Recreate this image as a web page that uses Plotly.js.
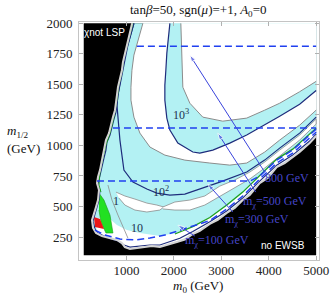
<!DOCTYPE html>
<html><head><meta charset="utf-8">
<script src="https://cdn.plot.ly/plotly-3.0.1.min.js"></script>
<style>html,body{margin:0;padding:0;background:#fff}</style>
</head><body><div id="chart" style="width:334px;height:295px"></div>
<script>
// ---- axes ----
const xTicks = [1000, 2000, 3000, 4000, 5000];
const yTicks = [250, 500, 750, 1000, 1250, 1500, 1750, 2000];

// ---- scanned parameter region (m0, m1/2) ----
const regionM0  = [100, 5000, 5000, 100];
const regionM12 = [100, 100, 2000, 2000];
const cornerM0  = [5000];
const cornerM12 = [2000];

// edge of the allowed region (chi not LSP on the left, no EWSB on the right)
const edgeM0  = [1120,1074,1031,968,926,905,863,821,800,779,758,716,674,632,568,547,505,442,400,379,421,400,358,316,274,295,358,484,653,800,905,968,1074,1221,1389,1537,1705,1873,2063,2231,2400,2547,2758,2926,3115,3284,3452,3600,3810,3980,4168,4336,4505,4652,4863,5000];
const edgeM12 = [2000,1919,1845,1756,1682,1616,1551,1477,1412,1346,1289,1232,1166,1101,1044,1003,905,798,741,692,635,553,496,447,389,324,283,258,242,226,201,168,152,160,168,177,168,185,210,230,275,300,357,390,447,488,553,594,692,733,823,856,905,946,1019,1077];

// contour 10^3 (dark) and its companion (gray)
const c1000M0  = [1916,1873,1852,1831,1810,1810,1852,1916,2084,2400,2547,2821,3179,3536,3915,4231,4652,5000];
const c1000M12 = [2000,1862,1756,1616,1494,1371,1224,1126,1019,946,937,962,1019,1085,1166,1240,1338,1450];
const g3000M0  = [2147,2168,2189,2337,2610,3031,3536,3915,4231,4652,5000];
const g3000M12 = [2000,1698,1477,1346,1232,1199,1224,1289,1346,1440,1525];
// contour 10^2 (dark) and its companion (gray)
const c100M0  = [1158,1095,1031,989,947,905,863,821,800,821,863,905,947,1137,1431,1642,1916,2231,2547,2968,3536,3915,4231,4652,5000];
const c100M12 = [2000,1919,1821,1740,1657,1559,1477,1412,1330,1207,1044,921,798,700,643,610,594,602,643,700,782,880,978,1101,1232];
const g300M0  = [1347,1284,1221,1158,1116,1095,1095,1158,1284,1495,1810,2231,2758,3179,3536,3915,4231,4652,5000];
const g300M12 = [2000,1919,1821,1740,1616,1477,1371,1232,1101,987,921,880,856,839,856,946,1044,1166,1289];

// white bands lower down
const tongueLM0  = [779,968,1179,1431,1642,1789,1705,1431,1179,968,842];
const tongueLM12 = [618,586,561,528,512,496,471,455,471,512,569];
const tongueRM0  = [1768,2021,2337,2652,2968,3284,3600,3915,4231,4652,5000,5000,4652,4231,3915,3600,3284,2968,2652,2337,2021,1768];
const tongueRM12 = [496,537,553,586,667,717,782,864,962,1085,1216,1175,1044,913,815,725,652,586,512,471,471,480];
const stripM0  = [526,653,800,1010,1284,1705,2063,2400,2758,3115,3452,3810,4168,4505,5000,5000,4505,4168,3810,3452,3115,2758,2400,2063,1705,1389,1074,968,905,800,653,484,358,379];
const stripM12 = [455,398,348,307,283,258,285,335,410,504,610,749,880,962,1134,1077,905,823,692,553,447,357,275,210,168,168,152,168,201,226,242,258,283,373];

// lines along the edge
const edgeBlueM0  = [1158,1095,1031,968,926,884,842,821,800,779,737,695,653,589,568,526,484,463,421,400,442,421,379,337,295,337,400,526,674,821,947,1074,1284,1495,1705,1916,2126,2400,2758,3115,3452,3810,4168,4505,4863,5000];
const edgeBlueM12 = [2000,1919,1821,1740,1657,1559,1477,1412,1330,1273,1216,1150,1085,1027,962,897,831,782,733,684,635,553,496,439,381,316,283,258,234,218,185,168,177,185,185,210,240,295,375,463,569,708,839,921,1036,1093];
const greenLM0  = [1137,1074,1010,947,905,842,800,737,653,568,505,442,421,463];
const greenLM12 = [2000,1903,1805,1715,1600,1494,1371,1232,1101,1003,897,782,676,618];
const greenDM0  = [2021,2400,2758,3115,3452,3810,4168,4505,5000];
const greenDM12 = [275,335,410,512,618,757,888,970,1142];
const c1M0  = [610,695,821,947,1031];
const c1M12 = [676,553,430,324,242];
const greenAreaM0  = [421,526,653,716,568,463,421];
const greenAreaM12 = [610,553,430,283,283,373,471];
const redAreaM0  = [316,442,526,337];
const redAreaM12 = [414,398,316,332];

// neutralino mass contours
const d800M0 = [1221,5000], d800M12 = [1813,1813];
const d500M0 = [716,5000],  d500M12 = [1142,1142];
const d300M0 = [379,3600,3810,4168,4505,5000], d300M12 = [708,708,749,880,962,1134];
const d100M0 = [337,547,863,1179,1495,1810,2126,2442,2758,3115,3452,3810,4168,4505,5000];
const d100M12 = [307,266,234,226,242,266,305,345,385,479,586,725,856,937,1109];

// arrows: head and tail positions
const arrowHeadM0 = [2337,2926,2716,2084];
const arrowHeadM12 = [1740,1101,683,348];
const arrowTailM0 = [3915,3726,3242,2442];
const arrowTailM12 = [782,618,455,258];

// mass labels
const massText = ['800 GeV','m<sub>χ</sub>=500 GeV','m<sub>χ</sub>=300 GeV','m<sub>χ</sub>=100 GeV'];
const massM0 = [4379,4126,3747,2905];
const massM12 = [733,536,389,218];
// contour labels
const contText = ['10<sup>3</sup>','10<sup>2</sup>','10','1'];
const contM0 = [2147,1726,1221,779];
const contM12 = [1256,627,324,545];
// region labels
const regText = ['χnot LSP','no EWSB'];
const regM0 = [547,4294];
const regM12 = [1927,177];

const CYAN='#b3f1f3', DARK='#1e2c7c', GRAY='#8c8c8c', DASH='#2040f0', ARR='#3a44dc', LAB='#4646c8';
const serif='Liberation Serif, Times New Roman, serif';
const sans='Liberation Sans, Arial, sans-serif';

function poly(x,y,fc,lc,lw){return {x:x,y:y,mode:'lines',fill:'toself',fillcolor:fc,line:{color:lc||fc,width:lw||0},hoverinfo:'skip'};}
function line(x,y,c,w,dash){return {x:x,y:y,mode:'lines',line:{color:c,width:w,dash:dash||'solid'},hoverinfo:'skip'};}

const traces = [
  poly(regionM0, regionM12, '#000'),
  poly(edgeM0.concat(cornerM0), edgeM12.concat(cornerM12), CYAN),
  poly(g300M0.concat(cornerM0), g300M12.concat(cornerM12), '#fff'),
  poly(c1000M0.concat(cornerM0), c1000M12.concat(cornerM12), CYAN),
  poly(g3000M0.concat(cornerM0), g3000M12.concat(cornerM12), '#fff'),
  poly(tongueLM0, tongueLM12, '#fff', GRAY, 0.8),
  poly(tongueRM0, tongueRM12, '#fff', GRAY, 0.8),
  poly(stripM0, stripM12, '#fff'),
  poly(greenAreaM0, greenAreaM12, '#22e022', '#1a9a1a', 0.6),
  poly(redAreaM0, redAreaM12, '#ee1515'),
  line(g300M0, g300M12, GRAY, 1),
  line(g3000M0, g3000M12, GRAY, 1),
  line(c100M0, c100M12, DARK, 1.2),
  line(c1000M0, c1000M12, DARK, 1.2),
  line(c1M0, c1M12, GRAY, 0.8),
  line(edgeBlueM0, edgeBlueM12, DARK, 1.2),
  line(greenLM0, greenLM12, '#1fa01f', 1),
  line(greenDM0, greenDM12, '#1fa01f', 1.3),
  line(edgeM0, edgeM12, '#d4d4d4', 2),
  line(d800M0, d800M12, DASH, 1.5, '7px,4px'),
  line(d500M0, d500M12, DASH, 1.5, '7px,4px'),
  line(d300M0, d300M12, DASH, 1.5, '7px,4px'),
  line(d100M0, d100M12, DASH, 1.5, '7px,4px')
];
for (let i=0;i<arrowHeadM0.length;i++){
  traces.push({x:[arrowTailM0[i], arrowHeadM0[i]], y:[arrowTailM12[i], arrowHeadM12[i]], mode:'lines+markers',
    line:{color:ARR, width:1}, marker:{symbol:'arrow', size:[0,7], angleref:'previous', color:ARR}, hoverinfo:'skip'});
}

const ann = [];
for (let i=0;i<massText.length;i++){
  ann.push({x:massM0[i], y:massM12[i], xref:'x', yref:'y', text:massText[i], showarrow:false, font:{family:serif,size:12,color:LAB}});
}
for (let i=0;i<contText.length;i++){
  ann.push({x:contM0[i], y:contM12[i], xref:'x', yref:'y', text:contText[i], showarrow:false, font:{family:serif,size:12,color:'#1d3050'}});
}
for (let i=0;i<regText.length;i++){
  ann.push({x:regM0[i], y:regM12[i], xref:'x', yref:'y', text:regText[i], showarrow:false, font:{family:sans,size:10,color:'#fff'}});
}
ann.push({x:0.496, y:1.05, xref:'paper', yref:'paper', yanchor:'middle', showarrow:false,
  text:'tan<i>β</i>=50, sgn(<i>μ</i>)=+1, <i>A</i><sub>0</sub>=0', font:{family:serif,size:13,color:'#111'}});
ann.push({x:0.496, y:-0.112, xref:'paper', yref:'paper', yanchor:'middle', showarrow:false,
  text:'<i>m</i><sub>0</sub> (GeV)', font:{family:serif,size:13,color:'#111'}});
ann.push({x:-0.308, y:0.542, xref:'paper', yref:'paper', xanchor:'left', yanchor:'middle', showarrow:false,
  text:'<i>m</i><sub>1/2</sub>', font:{family:serif,size:13,color:'#111'}});
ann.push({x:-0.308, y:0.47, xref:'paper', yref:'paper', xanchor:'left', yanchor:'middle', showarrow:false,
  text:'(GeV)', font:{family:serif,size:13,color:'#111'}});

const axisBase = {showgrid:false, zeroline:false, showline:true, linecolor:'#c4c4c4', linewidth:1, mirror:'ticks',
  ticks:'inside', ticklen:4, tickcolor:'#b0b0b0', tickfont:{family:serif,size:13,color:'#222'}};
const layout = {
  width:334, height:295, margin:{l:79,r:15,t:22,b:35}, showlegend:false,
  paper_bgcolor:'#fff', plot_bgcolor:'#fff',
  xaxis:Object.assign({}, axisBase, {range:[0,5060], tickvals:xTicks, ticktext:xTicks.map(String), ticklabelstandoff:-2}),
  yaxis:Object.assign({}, axisBase, {range:[62,2011], tickvals:yTicks, ticktext:yTicks.map(String), ticklabelstandoff:3}),
  annotations:ann
};
Plotly.newPlot('chart', traces, layout, {staticPlot:true, displayModeBar:false});
</script></body></html>
